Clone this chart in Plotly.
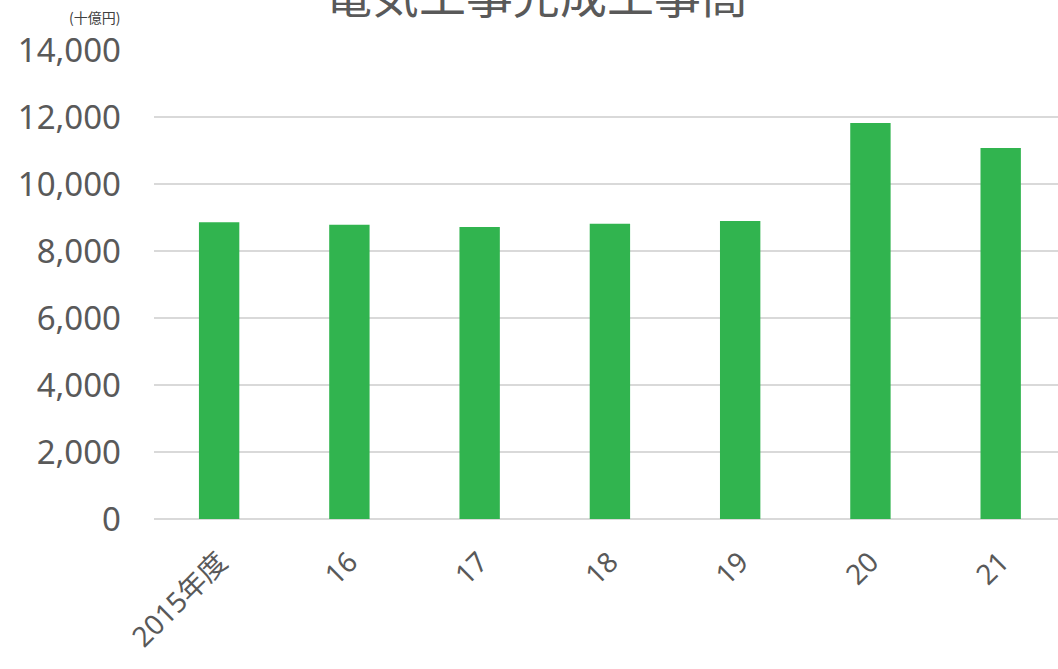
import plotly.graph_objects as go

categories = ["2015年度", "16", "17", "18", "19", "20", "21"]
values = [8860, 8780, 8720, 8815, 8895, 11820, 11075]
y_ticks = [0, 2000, 4000, 6000, 8000, 10000, 12000, 14000]
y_tick_labels = ["0", "2,000", "4,000", "6,000", "8,000", "10,000", "12,000", "14,000"]
title_text = "電気工事完成工事高"
unit_text = "(十億円)"

font_family = "Noto Sans, Noto Sans CJK JP, sans-serif"
gray = "#595959"

fig = go.Figure()
fig.add_trace(go.Bar(
    x=list(range(len(categories))),
    y=values,
    width=0.31,
    marker=dict(color="#31B44F", line=dict(width=0)),
    hoverinfo="skip",
))

fig.update_layout(
    width=1058, height=669,
    margin=dict(l=154, r=0, t=50, b=150),
    paper_bgcolor="white", plot_bgcolor="white",
    showlegend=False,
    font=dict(family=font_family, color=gray),
    xaxis=dict(
        tickmode="array",
        tickvals=list(range(len(categories))),
        ticktext=categories,
        range=[-0.5, 6.44],
        tickangle=-45,
        tickfont=dict(size=28, color=gray, family=font_family),
        showgrid=False, zeroline=False, showline=False, ticks="",
        ticklabelstandoff=20,
    ),
    yaxis=dict(
        range=[0, 14000],
        tickmode="array",
        tickvals=y_ticks,
        ticktext=y_tick_labels,
        tickfont=dict(size=33, color=gray, family=font_family),
        showgrid=True, gridcolor="#D9D9D9", gridwidth=2,
        zeroline=True, zerolinecolor="#D9D9D9", zerolinewidth=2,
        showline=False, ticks="",
        ticklabelstandoff=32,
    ),
    annotations=[
        dict(text=title_text, xref="paper", yref="paper", x=0.4226, y=1.122,
             xanchor="center", yanchor="middle", showarrow=False,
             font=dict(size=47, color=gray, family="Noto Sans CJK JP, sans-serif")),
        dict(text=unit_text, xref="paper", yref="paper", x=-0.035, y=1.07,
             xanchor="right", yanchor="middle", showarrow=False,
             font=dict(size=14, color="#404040", family="Noto Sans CJK JP, sans-serif")),
    ],
)

fig.write_html(
    "out.html",
    config={"displayModeBar": False, "staticPlot": True},
    post_script="document.body.style.margin='0';document.body.style.overflow='hidden';",
)
